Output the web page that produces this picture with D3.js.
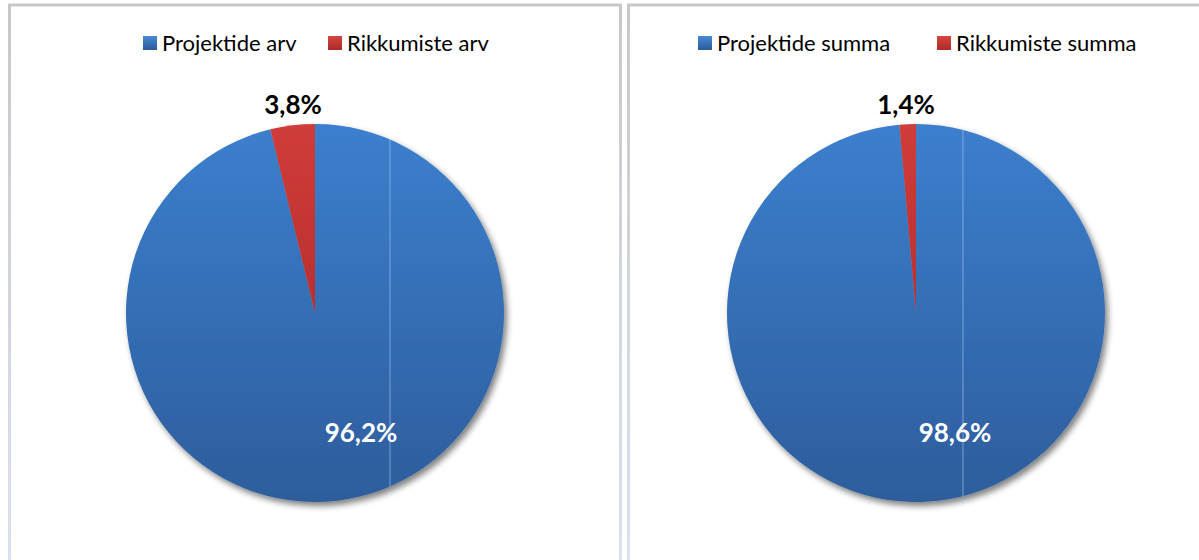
<!DOCTYPE html>
<html>
<head>
<meta charset="utf-8">
<script src="https://cdn.jsdelivr.net/npm/d3@7"></script>
<style>
  body { margin: 0; background: #fff; }
  svg { display: block; }
</style>
</head>
<body>
<svg width="1199" height="560"></svg>
<script>
// chart data
const categories = ['Projektide', 'Rikkumiste'];
const leftLabels = ['Projektide arv', 'Rikkumiste arv'];
const rightLabels = ['Projektide summa', 'Rikkumiste summa'];
const leftValues = [96.2, 3.8];
const rightValues = [98.6, 1.4];

const svg = d3.select('svg');
const defs = svg.append('defs');

const grad = (id, top, bottom) => {
    const g = defs.append('linearGradient').attr('id', id)
        .attr('x1', 0).attr('y1', 0).attr('x2', 0).attr('y2', 1);
    g.append('stop').attr('offset', '0%').attr('stop-color', top);
    g.append('stop').attr('offset', '100%').attr('stop-color', bottom);
};
grad('blueFill', '#3c7fce', '#2d5d9c');
grad('redFill', '#d03c3a', '#b8302e');
grad('blueKey', '#4a8ad6', '#2b5a98');
grad('redKey', '#d8453f', '#a92b28');
grad('borderFill', '#c8c8c8', '#dbe3f3');

const shadow = defs.append('filter').attr('id', 'shadow')
    .attr('x', '-20%').attr('y', '-20%').attr('width', '140%').attr('height', '140%');
shadow.append('feGaussianBlur').attr('in', 'SourceAlpha').attr('stdDeviation', 3);
shadow.append('feOffset').attr('dx', 3).attr('dy', 4).attr('result', 'ob');
shadow.append('feComponentTransfer').append('feFuncA').attr('type', 'linear').attr('slope', 0.5);
const merge = shadow.append('feMerge');
merge.append('feMergeNode');
merge.append('feMergeNode').attr('in', 'SourceGraphic');

const colors = d3.scaleOrdinal().domain(categories).range(['url(#blueFill)', 'url(#redFill)']);
const keyColors = d3.scaleOrdinal().domain(categories).range(['url(#blueKey)', 'url(#redKey)']);
const fmt = v => d3.format('.1f')(v).replace('.', ',') + '%';
const font = 'Lato, "Open Sans", sans-serif';

const drawPanel = (opt, values, labels) => {
    const g = svg.append('g');
    // panel frame
    g.append('rect').attr('x', opt.x0).attr('y', 5).attr('width', opt.x1 - opt.x0).attr('height', 600)
        .attr('fill', 'none').attr('stroke', 'url(#borderFill)').attr('stroke-width', 3);

    const cx = opt.cx, cy = 313, r = 189;
    const pie = d3.pie().sort(null).value(d => d.v);
    const arcs = pie(values.map((v, i) => ({cat: categories[i], v})));
    const arc = d3.arc().innerRadius(0).outerRadius(r);

    const pg = g.append('g').attr('transform', `translate(${cx},${cy})`);
    pg.append('g').attr('filter', 'url(#shadow)')
        .selectAll('path').data(arcs).enter()
        .append('path')
        .attr('d', arc)
        .attr('fill', d => colors(d.data.cat));

    // faint vertical artefact line seen in the original
    const clipId = 'clip' + cx;
    defs.append('clipPath').attr('id', clipId).append('circle').attr('r', r);
    pg.append('line').attr('x1', opt.lineX).attr('x2', opt.lineX).attr('y1', -r).attr('y2', r)
        .attr('stroke', '#9dbde9').attr('stroke-width', 1).attr('opacity', 0.7)
        .attr('clip-path', `url(#${clipId})`);

    // labels
    pg.selectAll('text.lbl').data(arcs).enter()
        .append('text')
        .attr('class', 'lbl')
        .attr('x', d => d.data.cat === 'Projektide' ? opt.inX : opt.outX)
        .attr('y', d => d.data.cat === 'Projektide' ? 129 : -199)
        .attr('text-anchor', 'middle')
        .attr('font-family', font)
        .attr('font-weight', 'bold')
        .attr('font-size', 26)
        .attr('fill', d => d.data.cat === 'Projektide' ? '#fff' : '#000')
        .text(d => fmt(d.data.v));

    // legend
    const lg = g.append('g').attr('transform', `translate(${opt.legendX},36)`);
    labels.forEach((lab, i) => {
        const x = opt.itemX[i];
        lg.append('rect').attr('x', x).attr('y', 0).attr('width', 14).attr('height', 14)
            .attr('fill', keyColors(categories[i]));
        lg.append('text').attr('x', x + 19).attr('y', 14.5)
            .attr('font-family', font).attr('font-size', 22)
            .attr('fill', '#000').text(lab);
    });
};

drawPanel({x0: 9.5, x1: 620.5, cx: 315, lineX: 75, inX: 46, outX: -22, legendX: 143, itemX: [0, 185]},
    leftValues, leftLabels);
drawPanel({x0: 628.5, x1: 1260, cx: 916, lineX: 47, inX: 39, outX: -10, legendX: 698, itemX: [0, 239]},
    rightValues, rightLabels);
</script>
</body>
</html>
